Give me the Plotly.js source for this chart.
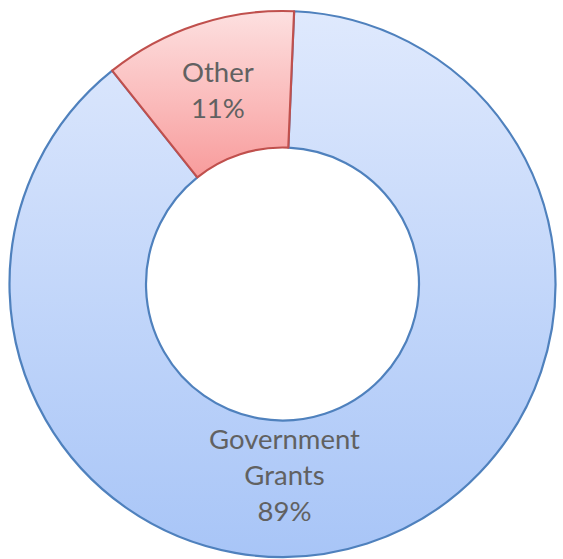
<!DOCTYPE html>
<html>
<head>
<meta charset="utf-8">
<script src="https://cdn.plot.ly/plotly-3.0.1.min.js"></script>
<style>html,body{margin:0;padding:0;background:#fff;}#chart{width:563px;height:559px;}</style>
</head>
<body>
<div id="chart"></div>
<script>
const labels = ["Other", "Government Grants"];
const displayLabels = ["Other", "Government<br>Grants"];
const values = [11.4, 88.6];
const fillColors = ["#fbc4c4", "#c6d9fa"];
const lineColors = ["#c0504d", "#4f81bd"];
const labelPos = [[0.387, 0.839], [0.506, 0.152]];

const total = values.reduce((a, b) => a + b, 0);
const annotations = labels.map((l, i) => ({
  xref: "paper", yref: "paper",
  x: labelPos[i][0], y: labelPos[i][1],
  xanchor: "center", yanchor: "middle",
  showarrow: false,
  align: "center",
  text: displayLabels[i] + "<br>" + Math.round(values[i] / total * 100) + "%",
  font: {family: "Lato, 'Open Sans', sans-serif", size: 27.5, color: "#616161"}
}));

const data = [{
  type: "pie",
  labels: labels,
  values: values,
  hole: 0.5,
  sort: false,
  direction: "clockwise",
  rotation: -38.6,
  textinfo: "none",
  hoverinfo: "label+percent",
  marker: {colors: fillColors, line: {color: lineColors, width: 2.2}},
  domain: {x: [9.5/563, 555.5/563], y: [2/559, 548/559]}
}];

const layout = {
  width: 563, height: 559,
  margin: {l: 0, r: 0, t: 0, b: 0},
  showlegend: false,
  paper_bgcolor: "#ffffff",
  annotations: annotations
};

Plotly.newPlot("chart", data, layout, {displayModeBar: false, staticPlot: true}).then(function (gd) {
  const svg = gd.querySelector(".main-svg");
  const ns = "http://www.w3.org/2000/svg";
  let defs = svg.querySelector("defs");
  if (!defs) { defs = document.createElementNS(ns, "defs"); svg.insertBefore(defs, svg.firstChild); }
  const grads = [["gRed", "#fde0e0", "#f89c9c"], ["gBlue", "#dfe9fd", "#a8c5f7"]];
  grads.forEach(function (g) {
    const lg = document.createElementNS(ns, "linearGradient");
    lg.setAttribute("id", g[0]);
    lg.setAttribute("x1", "0"); lg.setAttribute("y1", "0");
    lg.setAttribute("x2", "0"); lg.setAttribute("y2", "1");
    [[0, g[1]], [1, g[2]]].forEach(function (s) {
      const st = document.createElementNS(ns, "stop");
      st.setAttribute("offset", s[0]);
      st.setAttribute("stop-color", s[1]);
      lg.appendChild(st);
    });
    defs.appendChild(lg);
  });
  const slices = gd.querySelectorAll(".slice");
  slices.forEach(function (s, i) {
    const p = s.querySelector("path.surface");
    if (p) p.style.fill = "url(#" + grads[i][0] + ")";
  });
  if (slices.length > 1) slices[0].parentNode.appendChild(slices[0]);
});
</script>
</body>
</html>
